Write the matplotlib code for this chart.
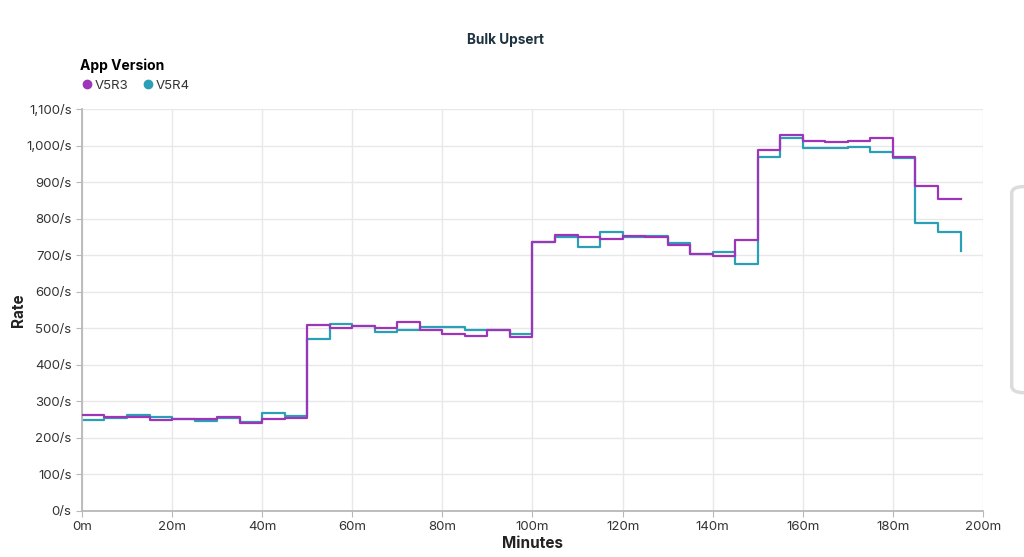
import matplotlib.pyplot as plt
from matplotlib.lines import Line2D
from matplotlib.patches import FancyBboxPatch
from matplotlib.ticker import FuncFormatter, MultipleLocator

plt.rcParams["font.family"] = ["Inter", "DejaVu Sans"]

# minutes at which each 5-minute bucket starts (plus the final point)
minutos = list(range(0, 200, 5))

v5r3 = [263, 258, 257, 248, 253, 252, 257, 240, 251, 254,
        510, 501, 507, 502, 516, 496, 485, 480, 496, 476,
        735, 754, 750, 743, 752, 749, 729, 703, 699, 741,
        988, 1029, 1012, 1010, 1013, 1021, 968, 889, 853, 853]
v5r4 = [250, 254, 262, 256, 253, 245, 255, 243, 267, 260,
        471, 513, 506, 491, 495, 504, 504, 496, 496, 483,
        737, 751, 723, 764, 750, 752, 733, 703, 708, 675,
        969, 1020, 992, 992, 997, 983, 966, 789, 764, 712]

color_r3 = "#9c35b8"
color_r4 = "#2a9fb6"

fig = plt.figure(figsize=(10.24, 5.57), dpi=100)
ax = fig.add_axes([0.080, 0.0826, 0.880, 0.7217])

ax.step(minutos, v5r3, where="post", color=color_r3, lw=1.6, zorder=3)
ax.step(minutos, v5r4, where="post", color=color_r4, lw=1.6, zorder=2)

ax.set_xlim(0, 200)
ax.set_ylim(0, 1100)
ax.xaxis.set_major_locator(MultipleLocator(20))
ax.yaxis.set_major_locator(MultipleLocator(100))
ax.xaxis.set_major_formatter(FuncFormatter(lambda v, p: f"{v:.0f}m"))
ax.yaxis.set_major_formatter(FuncFormatter(lambda v, p: f"{v:,.0f}/s"))
ax.grid(True, color="#e8e8ea", lw=1)
ax.set_axisbelow(True)
for s in ["top", "right"]:
    ax.spines[s].set_visible(False)
for s in ["left", "bottom"]:
    ax.spines[s].set_color("#b8b8b8")
    ax.spines[s].set_linewidth(1.3)
ax.tick_params(colors="#b8b8b8", labelcolor="#333333", labelsize=9.5, length=4)

ax.set_xlabel("Minutes", fontsize=11, fontweight="bold", color="#222222", labelpad=2)
ax.set_ylabel("Rate", fontsize=11, fontweight="bold", color="#222222")
ax.yaxis.set_label_coords(-0.062, 0.5)

fig.text(0.494, 0.928, "Bulk Upsert", ha="center", va="center",
         fontsize=9.8, fontweight="bold", color="#1f3340")

handles = [Line2D([], [], marker="o", ls="", color=color_r3, markersize=6),
           Line2D([], [], marker="o", ls="", color=color_r4, markersize=6)]
leg = fig.legend(handles, ["V5R3", "V5R4"], title="App Version", ncol=2,
                 loc="upper left", bbox_to_anchor=(0.073, 0.905), frameon=False,
                 fontsize=9.5, handletextpad=0.1, columnspacing=1.0,
                 borderaxespad=0, handlelength=1.0)
leg.get_title().set_fontweight("bold")
leg.get_title().set_fontsize(10)
leg._legend_box.align = "left"
for t in leg.get_texts():
    t.set_color("#333333")

# panel edge at the right of the screenshot
fig.patches.append(FancyBboxPatch((0.988, 0.295), 0.05, 0.37,
                                  boxstyle="round,pad=0,rounding_size=0.012",
                                  transform=fig.transFigure, fc="white",
                                  ec="#dcdcdc", lw=2.5))

fig.savefig("out.png", dpi=100)
